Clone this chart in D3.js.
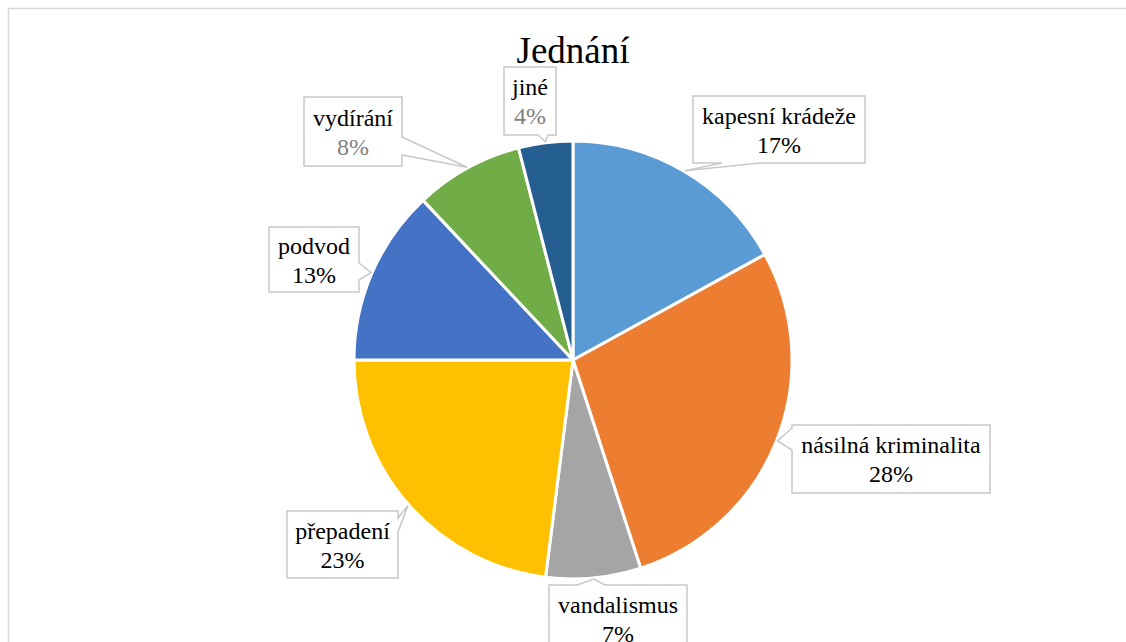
<!DOCTYPE html>
<html>
<head>
<meta charset="utf-8">
<script src="https://cdn.jsdelivr.net/npm/d3@7"></script>
<style>
  body { margin: 0; background: #fff; }
  svg { display: block; }
  svg text, svg tspan { font-family: 'Liberation Serif', 'Times New Roman', serif; }
</style>
</head>
<body>
<div class="vis-pie"></div>
<script>
// data
const categories = ['kapesní krádeže', 'násilná kriminalita', 'vandalismus', 'přepadení', 'podvod', 'vydírání', 'jiné'];
const shares = [17, 28, 7, 23, 13, 8, 4];
const sliceColors = ['#5B9BD5', '#ED7D31', '#A5A5A5', '#FFC000', '#4472C4', '#70AD47', '#255E91'];
const title = 'Jednání';

// hand placed label boxes (as in the original), wedge side + base span on that side
const labelLayout = [
    {x: 693, y: 96,  w: 172, h: 67, side: 'bottom', base: [722, 760], pctColor: '#000'},
    {x: 792, y: 425, w: 198, h: 68, side: 'left',   base: [428, 450], pctColor: '#000'},
    {x: 549, y: 585, w: 138, h: 68, side: 'top',    base: [577, 605], pctColor: '#000'},
    {x: 287, y: 511, w: 111, h: 67, side: 'right',  base: [518, 532], pctColor: '#000'},
    {x: 269, y: 227, w: 90,  h: 65, side: 'right',  base: [263, 280], pctColor: '#000'},
    {x: 304, y: 97,  w: 98,  h: 69, side: 'right',  base: [137, 155], pctColor: '#7f7f7f'},
    {x: 504, y: 67,  w: 52,  h: 68, side: 'bottom', base: [538, 548], pctColor: '#7f7f7f'}
];

const width = 1126, height = 642;
const cx = 573, cy = 360, radius = 219;
const serif = "'Liberation Serif', 'Times New Roman', serif";

const svg = d3.select('.vis-pie').append('svg')
    .attr('width', width)
    .attr('height', height)
    .attr('font-family', serif);

// chart frame (runs off the right and bottom)
svg.append('rect')
    .attr('x', 8.5).attr('y', 8.5)
    .attr('width', width + 20).attr('height', height + 20)
    .attr('fill', 'none')
    .attr('stroke', '#d9d9d9')
    .attr('stroke-width', 1.5);

svg.append('text')
    .attr('x', cx).attr('y', 63)
    .attr('text-anchor', 'middle')
    .attr('font-family', serif)
    .attr('font-size', 37)
    .attr('fill', '#000')
    .text(title);

const dataset = categories.map((c, i) => ({label: c, value: shares[i], color: sliceColors[i], layout: labelLayout[i]}));

const pie = d3.pie().sort(null).value(d => d.value);
const arc = d3.arc().innerRadius(0).outerRadius(radius);
const tipArc = d3.arc().innerRadius(radius + 1).outerRadius(radius + 1);

const g = svg.append('g').attr('transform', 'translate(' + cx + ',' + cy + ')');
const arcs = pie(dataset);

g.selectAll('.slice')
    .data(arcs)
    .enter().append('path')
    .attr('class', 'slice')
    .attr('d', arc)
    .attr('fill', d => d.data.color)
    .attr('stroke', '#fff')
    .attr('stroke-width', 3)
    .attr('stroke-linejoin', 'round');

// callout box path: rectangle with a wedge on one side pointing at the tip
function callout(b, tip) {
    const x0 = b.x, y0 = b.y, x1 = b.x + b.w, y1 = b.y + b.h;
    const [a, c] = b.base;
    const t = tip[0] + ',' + tip[1];
    if (b.side === 'bottom')
        return `M${x0},${y0}H${x1}V${y1}H${c}L${t}L${a},${y1}H${x0}Z`;
    if (b.side === 'top')
        return `M${x0},${y0}H${a}L${t}L${c},${y0}H${x1}V${y1}H${x0}Z`;
    if (b.side === 'left')
        return `M${x0},${y0}H${x1}V${y1}H${x0}V${c}L${t}L${x0},${a}Z`;
    return `M${x0},${y0}H${x1}V${a}L${t}L${x1},${c}V${y1}H${x0}Z`;
}

const labels = svg.selectAll('.label')
    .data(arcs)
    .enter().append('g')
    .attr('class', 'label');

labels.append('path')
    .attr('d', d => {
        const p = tipArc.centroid(d);
        return callout(d.data.layout, [cx + p[0], cy + p[1]]);
    })
    .attr('fill', '#fff')
    .attr('stroke', '#c8c8c8')
    .attr('stroke-width', 1.5);

const txt = labels.append('text')
    .attr('text-anchor', 'middle')
    .attr('font-family', serif)
    .attr('font-size', 24);

txt.append('tspan')
    .attr('x', d => d.data.layout.x + d.data.layout.w / 2)
    .attr('y', d => d.data.layout.y + d.data.layout.h / 2 - 6)
    .attr('fill', '#000')
    .text(d => d.data.label);

txt.append('tspan')
    .attr('x', d => d.data.layout.x + d.data.layout.w / 2)
    .attr('y', d => d.data.layout.y + d.data.layout.h / 2 + 23)
    .attr('fill', d => d.data.layout.pctColor)
    .text(d => d.data.value + '%');
</script>
</body>
</html>
